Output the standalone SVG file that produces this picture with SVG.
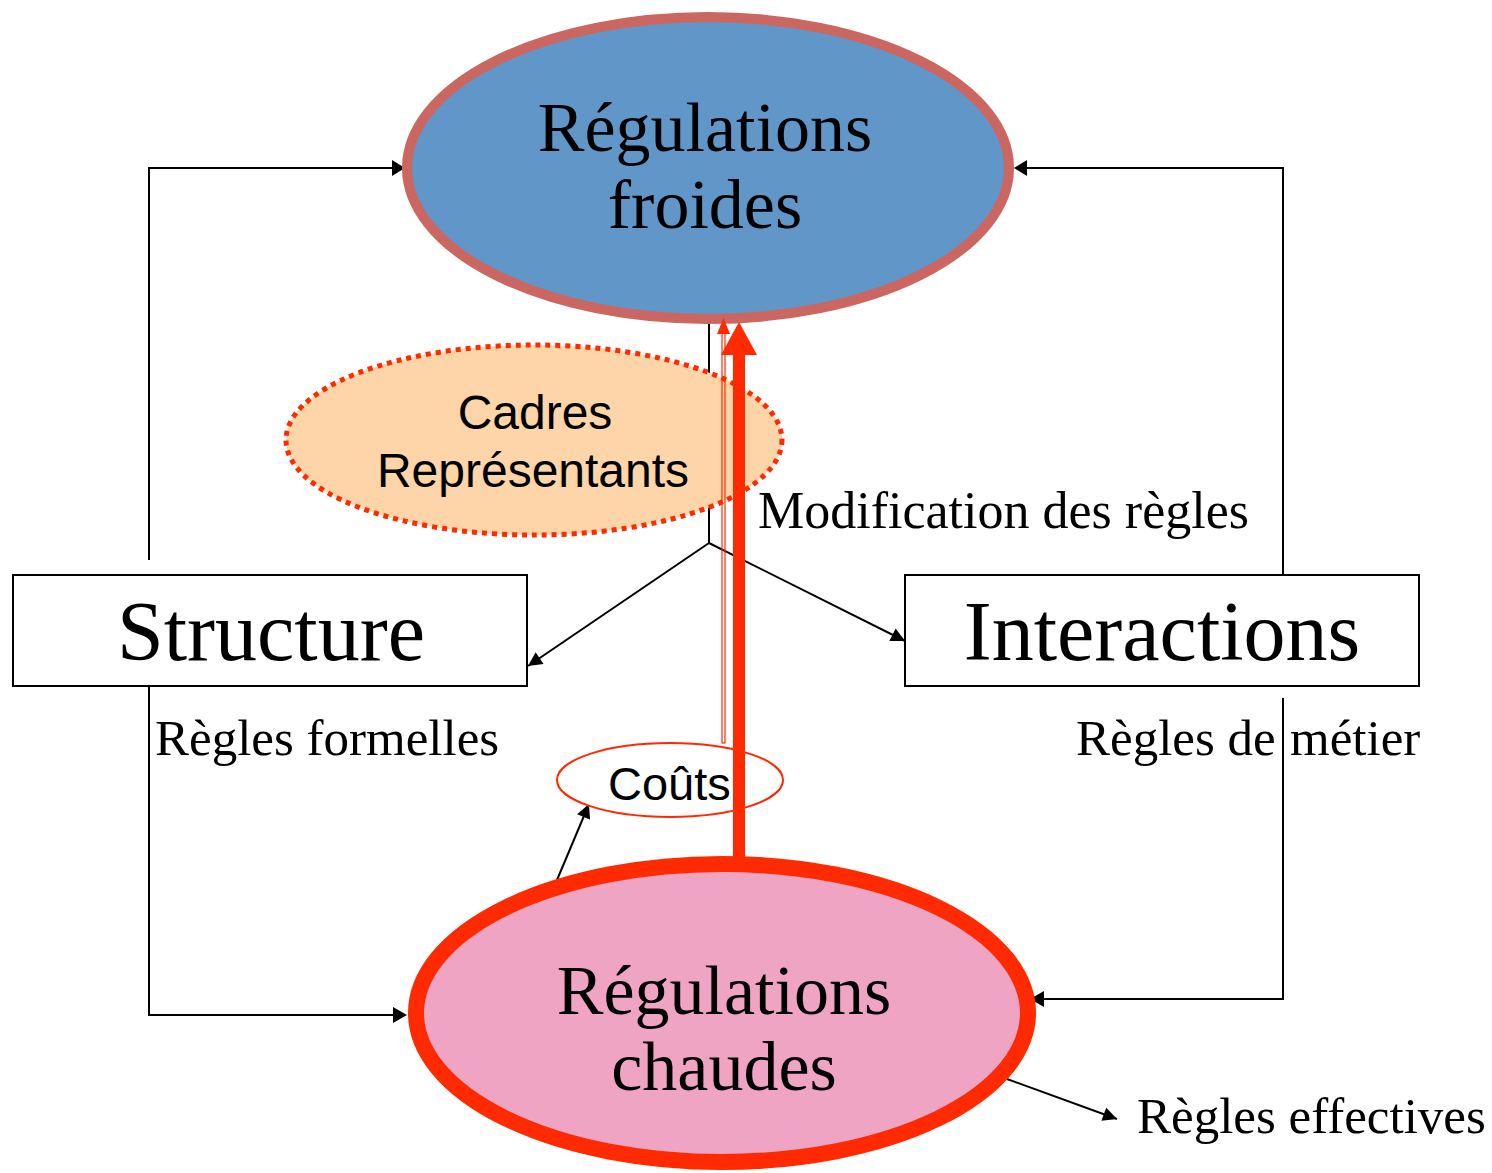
<svg xmlns="http://www.w3.org/2000/svg" width="1492" height="1173" viewBox="0 0 1492 1173">
  <style>
    .serif { font-family: "Liberation Serif", "Times New Roman", serif; fill: #000; }
    .sans { font-family: "Liberation Sans", Arial, sans-serif; fill: #000; }
    .box { fill: #fff; stroke: #000; stroke-width: 2; }
    .link { fill: none; stroke: #000; stroke-width: 2; }
    .label { font-size: 51px; }
    .title { font-size: 70px; }
    .boxtext { font-size: 84px; }
  </style>
  <defs>
    <marker id="arrowL" viewBox="0 0 10 10" refX="10" refY="5" markerWidth="15" markerHeight="14" markerUnits="userSpaceOnUse" orient="auto">
      <path d="M0,0 L10,5 L0,10 z" fill="#000"/>
    </marker>
  </defs>

  <rect width="1492" height="1173" fill="#fff"/>

  <!-- connectors (black) -->
  <g id="connectors">
    <polyline class="link" points="149,560 149,168 392,168"/>
    <path d="M392,160 L405,168 L392,176 z" fill="#000"/>
    <polyline class="link" points="1283,575 1283,168 1027,168"/>
    <path d="M1027,160 L1014,168 L1027,176 z" fill="#000"/>
    <polyline class="link" points="149,684 149,1015 393,1015"/>
    <path d="M393,1007 L407,1015 L393,1023 z" fill="#000"/>
    <polyline class="link" points="1283,698 1283,999 1044,999"/>
    <path d="M1044,991 L1030,999 L1044,1007 z" fill="#000"/>
    <polyline class="link" points="709,322 709,543"/>
    <line class="link" x1="709" y1="543" x2="528" y2="666" marker-end="url(#arrowL)"/>
    <line class="link" x1="709" y1="543" x2="905" y2="641" marker-end="url(#arrowL)"/>
    <line class="link" x1="557" y1="880" x2="589" y2="804" marker-end="url(#arrowL)"/>
    <line class="link" x1="1007" y1="1079" x2="1117" y2="1119" marker-end="url(#arrowL)"/>
  </g>

  <!-- cold regulations -->
  <g id="regulations-froides">
    <ellipse cx="708" cy="168" rx="301" ry="151" fill="#6096C8" stroke="#CC6660" stroke-width="10"/>
    <text class="serif title" x="705" y="151" text-anchor="middle">Régulations</text>
    <text class="serif title" x="705" y="228" text-anchor="middle">froides</text>
  </g>

  <!-- representatives -->
  <g id="cadres-representants">
    <ellipse cx="534" cy="440" rx="248" ry="95" fill="#FDD5A8" stroke="#FF2A00" stroke-width="5" stroke-dasharray="5,5"/>
    <text class="sans" x="535" y="429" font-size="48" text-anchor="middle">Cadres</text>
    <text class="sans" x="533" y="487" font-size="48" text-anchor="middle">Représentants</text>
  </g>

  <!-- structure -->
  <g id="structure">
    <rect class="box" x="13" y="575" width="514" height="111"/>
    <text class="serif boxtext" x="271" y="660" text-anchor="middle">Structure</text>
  </g>

  <!-- interactions -->
  <g id="interactions">
    <rect class="box" x="905" y="575" width="514" height="111"/>
    <text class="serif boxtext" x="1162" y="660" text-anchor="middle">Interactions</text>
  </g>

  <!-- costs -->
  <g id="couts">
    <ellipse cx="670" cy="780" rx="113" ry="37" fill="#fff" stroke="#FF2A00" stroke-width="2"/>
    <text class="sans" x="608" y="800" font-size="47">Coûts</text>
  </g>

  <!-- hot regulations -->
  <g id="regulations-chaudes">
    <ellipse cx="722" cy="1013" rx="306" ry="149" fill="#F0A4C4" stroke="#FF2A00" stroke-width="16"/>
    <text class="serif title" x="724" y="1014" text-anchor="middle">Régulations</text>
    <text class="serif title" x="724" y="1090" text-anchor="middle">chaudes</text>
  </g>

  <!-- red feedback arrows -->
  <g id="red-arrows">
    <rect x="722" y="333" width="3" height="410" fill="none" stroke="#FF2A00" stroke-width="1.2"/>
    <path d="M717,334 L723.5,318 L730,334 z" fill="#FF2A00"/>
    <rect x="733" y="352" width="12" height="508" fill="#FF2A00"/>
    <path d="M721,355 L739,322 L757,355 z" fill="#FF2A00"/>
  </g>

  <!-- labels -->
  <g id="labels">
    <text class="serif" x="758" y="528" font-size="52">Modification des règles</text>
    <text class="serif label" x="155" y="755">Règles formelles</text>
    <text class="serif label" x="1076" y="755">Règles de</text>
    <text class="serif label" x="1290" y="755">métier</text>
    <text class="serif label" x="1137" y="1133">Règles effectives</text>
  </g>
</svg>
